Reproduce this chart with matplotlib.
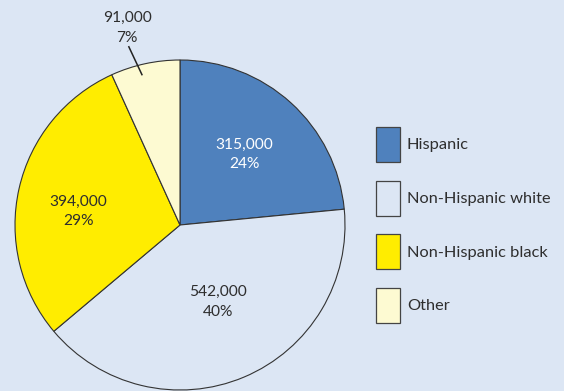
import numpy as np
import matplotlib.pyplot as plt
from matplotlib.patches import Rectangle

# Counts by group, clockwise from the top
groups = ['Hispanic', 'Non-Hispanic white', 'Non-Hispanic black', 'Other']
counts = [315000, 542000, 394000, 91000]
pct_labels = ['24%', '40%', '29%', '7%']
colors = ['#4f81bd', '#dce6f4', '#ffed00', '#fdfad2']

bg = '#dce6f4'
txt = '#2e2e2e'
plt.rcParams['font.family'] = ['Lato', 'DejaVu Sans']

W, H = 564, 391
fig = plt.figure(figsize=(W / 100, H / 100), dpi=100, facecolor=bg)

# pie centred at (180, 225) px with radius 165 px
cx, cy, r = 180, 225, 165
ax = fig.add_axes([(cx - r) / W, (H - cy - r) / H, 2 * r / W, 2 * r / H])
ax.set_facecolor(bg)

wedges, _ = ax.pie(counts, colors=colors, startangle=90, counterclock=False,
                   wedgeprops=dict(edgecolor='#333333', linewidth=0.8))
ax.set_xlim(-1, 1)
ax.set_ylim(-1, 1)
ax.set_aspect('equal')
ax.axis('off')

# in-slice labels: radius, angle nudge (deg) and colour per slice
lab_r = [0.58, 0.52, 0.62]
lab_da = [0, 3.5, 5]
lab_col = ['white', txt, txt]
for i in range(3):
    w = wedges[i]
    ang = np.deg2rad((w.theta1 + w.theta2) / 2 + lab_da[i])
    x, y = lab_r[i] * np.cos(ang), lab_r[i] * np.sin(ang)
    ax.text(x, y, f'{counts[i]:,}\n{pct_labels[i]}', ha='center', va='center',
            color=lab_col[i], fontsize=11.2, linespacing=1.5)

# small slice gets an outside label with a leader line
w = wedges[3]
ang = np.deg2rad((w.theta1 + w.theta2) / 2 + 2)
ax.text(-0.32, 1.195, f'{counts[3]:,}\n{pct_labels[3]}', ha='center',
        va='center', color=txt, fontsize=11.2, linespacing=1.5)
ax.plot([-0.31, 0.94 * np.cos(ang)], [1.08, 0.94 * np.sin(ang)],
        color='#222222', lw=1.1, clip_on=False)

# legend boxes drawn by hand
bx, by0, bw, bh, step = 376, 127, 24, 35, 53.5
for i, g in enumerate(groups):
    top = by0 + i * step
    fig.add_artist(Rectangle((bx / W, (H - top - bh) / H), bw / W, bh / H,
                             transform=fig.transFigure, facecolor=colors[i],
                             edgecolor='#444444', linewidth=0.9))
    fig.text((bx + bw + 7) / W, (H - top - bh / 2 - 1) / H, g, ha='left',
             va='center', color=txt, fontsize=11.8)

fig.savefig('out.png', dpi=100, facecolor=bg)
